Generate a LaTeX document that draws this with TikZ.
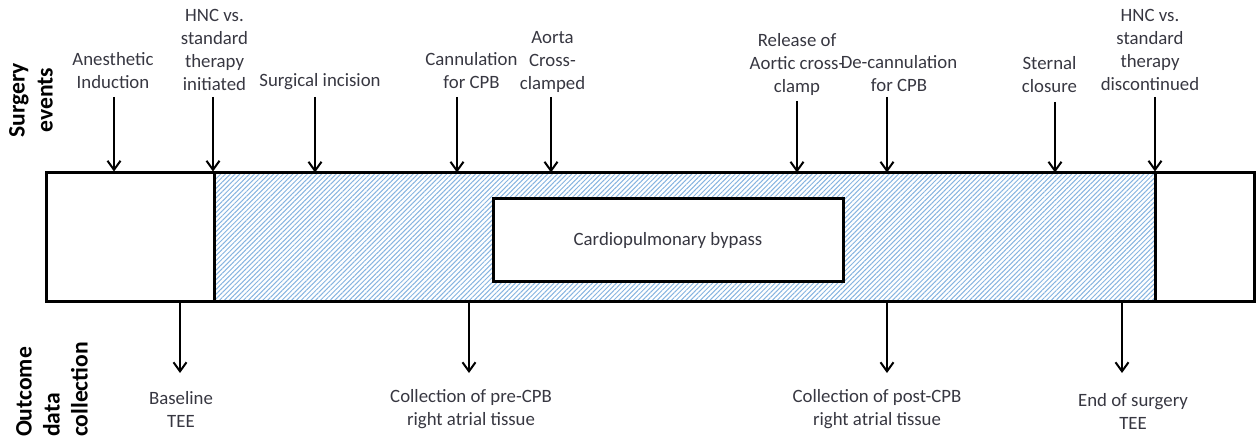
\documentclass[tikz,border=0pt]{standalone}
\usepackage{fontspec}
\setmainfont{Carlito}
\usepackage{tikz}
\usetikzlibrary{arrows.meta,patterns.meta}
\definecolor{hatchblue}{RGB}{135,180,224}
\definecolor{txtgray}{RGB}{55,55,65}

\begin{document}
\begin{tikzpicture}[x=0.5pt,y=-0.5pt,>={Straight Barb[length=4.5pt,width=6.5pt]},
  seg/.style={draw,line width=1.5pt,minimum height=64.5pt,inner sep=0pt},
  hatched/.style={seg,pattern={Lines[angle=45,distance=1.7pt,line width=0.5pt]},pattern color=hatchblue},
  evlabel/.style={align=center,font=\fontsize{9.4}{11.5}\selectfont,text=txtgray,inner sep=0pt},
  sidelabel/.style={rotate=90,font=\fontsize{11.8}{14}\selectfont\bfseries,inner sep=0pt},
  evarrow/.style={->,line width=1pt}]
\useasboundingbox (0,0) rectangle (1258,438);
% timeline bar
\node[seg,minimum width=84pt] (pre) at (130,237.5) {};
\node[hatched,minimum width=470.5pt] (onpump) at (684.5,237.5) {};
\node[seg,minimum width=49.5pt] (post) at (1204.5,237.5) {};
\node[seg,fill=white,minimum width=175pt,minimum height=41.5pt,evlabel] (cpb) at (668,240.5) {Cardiopulmonary bypass};
% side titles
\node[sidelabel,align=center] (surg) at (31,100) {Surgery\\events};
\node[sidelabel,align=left] (outc) at (52,389.5) {Outcome\\data\\collection};
% surgery events
\node[evlabel] (induct) at (113,70.5) {Anesthetic\\Induction};
\node[evlabel] (hncon) at (214.5,49.5) {HNC vs.\\standard\\therapy\\initiated};
\node[evlabel] (incis) at (320,82) {Surgical incision};
\node[evlabel] (cannul) at (471.5,70.5) {Cannulation\\for CPB};
\node[evlabel] (xclamp) at (552.5,62) {Aorta\\Cross-\\clamped};
\node[evlabel] (release) at (797,64) {Release of\\Aortic cross-\\clamp};
\node[evlabel] (decann) at (899,74) {De-cannulation\\for CPB};
\node[evlabel] (sternal) at (1049.5,75) {Sternal\\closure};
\node[evlabel] (hncoff) at (1150,50) {HNC vs.\\standard\\therapy\\discontinued};
\coordinate (e1) at (114,97);
\coordinate (e2) at (213,97);
\coordinate (e3) at (315,97);
\coordinate (e4) at (457,97);
\coordinate (e5) at (551,97);
\coordinate (e6) at (797,101);
\coordinate (e7) at (887,97);
\coordinate (e8) at (1055,102);
\coordinate (e9) at (1155,97);
\draw[evarrow] (e1) -- (e1 |- pre.north);
\draw[evarrow] (e2) -- (e2 |- pre.north);
\draw[evarrow] (e3) -- (e3 |- onpump.north);
\draw[evarrow] (e4) -- (e4 |- onpump.north);
\draw[evarrow] (e5) -- (e5 |- onpump.north);
\draw[evarrow] (e6) -- (e6 |- onpump.north);
\draw[evarrow] (e7) -- (e7 |- onpump.north);
\draw[evarrow] (e8) -- (e8 |- onpump.north);
\draw[evarrow] (e9) -- (e9 |- post.north);
% outcome data collection
\node[evlabel] (tee1) at (181,409.5) {Baseline\\TEE};
\node[evlabel] (tissue1) at (471,409.5) {Collection of pre-CPB\\right atrial tissue};
\node[evlabel] (tissue2) at (877,409.5) {Collection of post-CPB\\right atrial tissue};
\node[evlabel] (tee2) at (1133,411) {End of surgery\\TEE};
\coordinate (c1) at (180,373);
\coordinate (c2) at (469,373);
\coordinate (c3) at (887,373);
\coordinate (c4) at (1122,373);
\draw[evarrow] (c1 |- pre.south) -- (c1);
\draw[evarrow] (c2 |- onpump.south) -- (c2);
\draw[evarrow] (c3 |- onpump.south) -- (c3);
\draw[evarrow] (c4 |- onpump.south) -- (c4);
\end{tikzpicture}
\end{document}
